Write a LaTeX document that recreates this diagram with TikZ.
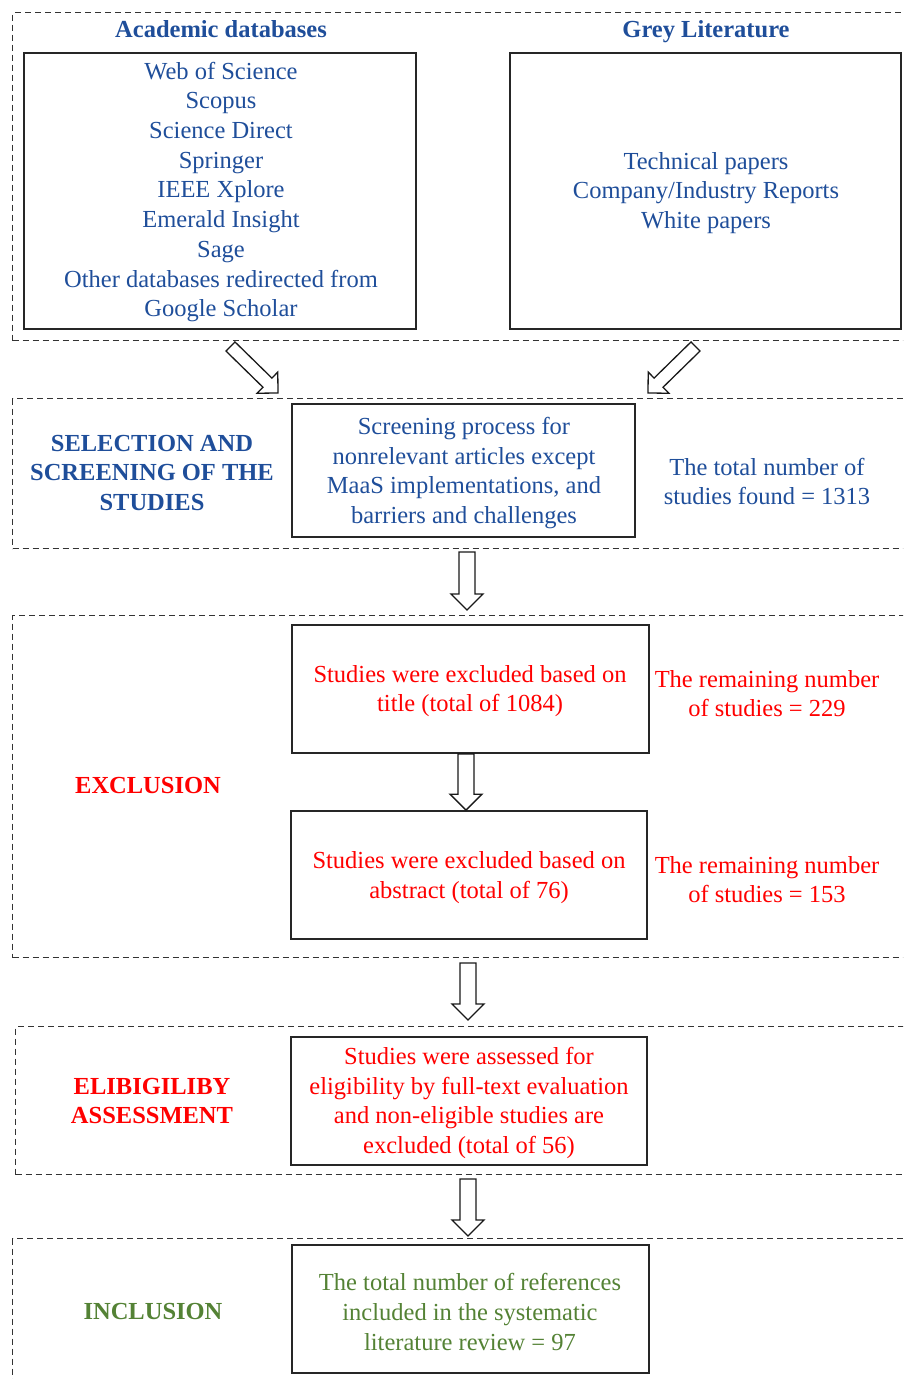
\documentclass[tikz,border=0pt]{standalone}
\usepackage{fontspec}
\setmainfont{Liberation Serif}
\usetikzlibrary{calc}
\definecolor{tblue}{HTML}{1F4E9A}
\definecolor{tred}{HTML}{FF0000}
\definecolor{tgreen}{HTML}{548235}
\newcommand\blockarr[5]{%
  \path coordinate (ba-h) at ($(#2)!#5!(#1)$);
  \draw[blockline] ($(#1)!#3!90:(#2)$) -- ($(ba-h)!#3!-90:(#1)$) -- ($(ba-h)!#4!-90:(#1)$) -- (#2)
    -- ($(ba-h)!#4!90:(#1)$) -- ($(ba-h)!#3!90:(#1)$) -- ($(#1)!#3!-90:(#2)$) -- cycle;}
\tikzset{
  txt/.style={font=\fontsize{24.5}{29.7}\selectfont, align=center, inner sep=0pt},
  head/.style={txt, font=\fontsize{24.5}{29.7}\selectfont\bfseries},
  solidbox/.style={draw=black!85, line width=1.7pt, inner sep=0pt, fill=none},
  dashbox/.style={draw=black!80, line width=1.2pt, dash pattern=on 6pt off 4pt, anchor=north west, inner sep=0pt},
  blockline/.style={draw=black!90, line width=1.3pt, line join=miter, fill=white},
}
\begin{document}
\begin{tikzpicture}[x=1pt,y=-1pt]
\useasboundingbox (0,0) rectangle (903,1379);
\clip (0,0) rectangle (903,1379);
% section frames
\node[dashbox, minimum width=910, minimum height=328] (sec1) at (12,12) {};
\node[dashbox, minimum width=910, minimum height=150] (sec2) at (12,398) {};
\node[dashbox, minimum width=910, minimum height=342] (sec3) at (12,615) {};
\node[dashbox, minimum width=910, minimum height=148] (sec4) at (15,1026) {};
\node[dashbox, minimum width=910, minimum height=170] (sec5) at (12,1238) {};
% section 1
\node[head, text=tblue, anchor=base] (acadT) at (221,37.5) {Academic databases};
\node[head, text=tblue, anchor=base] (greyT) at (706,37.5) {Grey Literature};
\node[solidbox, minimum width=392, minimum height=276] (acad) at (220,191) {};
\node[txt, text=tblue] (acadL) at (221,192) {Web of Science\\Scopus\\Science Direct\\Springer\\IEEE Xplore\\Emerald Insight\\Sage\\Other databases redirected from\\Google Scholar};
\node[solidbox, minimum width=391, minimum height=276] (grey) at (705.5,191) {};
\node[txt, text=tblue] (greyL) at (706,193) {Technical papers\\Company/Industry Reports\\White papers};
% section 2
\node[head, text=tblue] (selT) at (152,473) {SELECTION AND\\SCREENING OF THE\\STUDIES};
\node[solidbox, minimum width=343, minimum height=133] (scr) at (463.5,470.5) {};
\node[txt, text=tblue] (scrL) at (464,473) {Screening process for\\nonrelevant articles except\\MaaS implementations, and\\barriers and challenges};
\node[txt, text=tblue] (total) at (767,481.5) {The total number of\\studies found = 1313};
% section 3
\node[head, text=tred] (exT) at (148,785) {EXCLUSION};
\node[solidbox, minimum width=357, minimum height=128] (ex1) at (470.5,689) {};
\node[txt, text=tred] (ex1L) at (470,691) {Studies were excluded based on\\title (total of 1084)};
\node[txt, text=tred] (rem1) at (767,693.5) {The remaining number\\of studies = 229};
\node[solidbox, minimum width=356, minimum height=128] (ex2) at (469,875) {};
\node[txt, text=tred] (ex2L) at (469,877.5) {Studies were excluded based on\\abstract (total of 76)};
\node[txt, text=tred] (rem2) at (767,879.5) {The remaining number\\of studies = 153};
% section 4
\node[head, text=tred] (elT) at (152,1101) {ELIBIGILIBY\\ASSESSMENT};
\node[solidbox, minimum width=356, minimum height=128] (el) at (469,1101) {};
\node[txt, text=tred] (elL) at (469,1103) {Studies were assessed for\\eligibility by full-text evaluation\\and non-eligible studies are\\excluded (total of 56)};
% section 5
\node[head, text=tgreen] (inT) at (153,1311.5) {INCLUSION};
\node[solidbox, minimum width=357, minimum height=128] (inc) at (470.5,1309) {};
\node[txt, text=tgreen] (incL) at (470,1312) {The total number of references\\included in the systematic\\literature review = 97};
% arrows
\coordinate (d1s) at (230.5,346.5);
\coordinate (d1e) at (278,393);
\coordinate (d2s) at (695.5,346.5);
\coordinate (d2e) at (648,393);
\blockarr{d1s}{d1e}{6.4pt}{14.8pt}{14.8pt}
\blockarr{d2s}{d2e}{6.4pt}{14.8pt}{14.8pt}
\coordinate (v1s) at (467,552);
\coordinate (v1e) at (467,610);
\blockarr{v1s}{v1e}{8pt}{16pt}{16pt}
\coordinate (v2s) at ($(ex1.south)+(-4.5,0)$);
\coordinate (v2e) at ($(ex2.north)+(-3,0)$);
\blockarr{v2s}{v2e}{8pt}{16pt}{16pt}
\coordinate (v3s) at (468,963);
\coordinate (v3e) at (468,1020);
\blockarr{v3s}{v3e}{8pt}{16pt}{16pt}
\coordinate (v4s) at (468,1179);
\coordinate (v4e) at (468,1236);
\blockarr{v4s}{v4e}{8pt}{16pt}{16pt}
\end{tikzpicture}
\end{document}
